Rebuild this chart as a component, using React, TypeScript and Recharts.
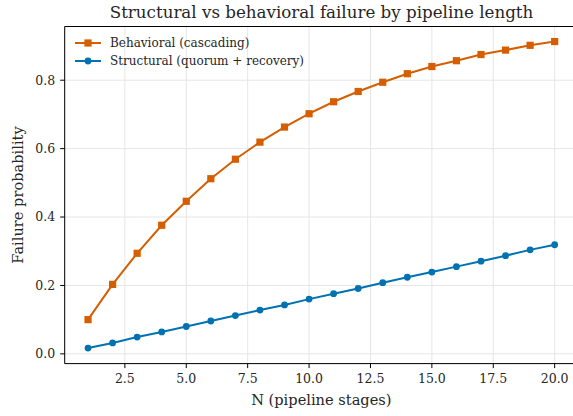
import {
  CartesianGrid,
  Label,
  Line,
  LineChart,
  ReferenceLine,
  XAxis,
  YAxis,
} from "recharts"

const STAGES = [1, 2, 3, 4, 5, 6, 7, 8, 9, 10, 11, 12, 13, 14, 15, 16, 17, 18, 19, 20]

const BEHAVIORAL = [
  0.1, 0.203, 0.294, 0.376, 0.446, 0.512, 0.569, 0.619, 0.663, 0.702,
  0.737, 0.767, 0.794, 0.819, 0.84, 0.857, 0.875, 0.888, 0.902, 0.913,
]

const STRUCTURAL = [
  0.017, 0.032, 0.049, 0.064, 0.08, 0.096, 0.112, 0.128, 0.143, 0.16,
  0.176, 0.191, 0.208, 0.224, 0.239, 0.255, 0.271, 0.287, 0.304, 0.319,
]

const X_TICKS = [2.5, 5, 7.5, 10, 12.5, 15, 17.5, 20]
const Y_TICKS = [0, 0.2, 0.4, 0.6, 0.8]
const X_DOMAIN: [number, number] = [0.05, 20.95]
const Y_DOMAIN: [number, number] = [-0.0285, 0.957]

const ORANGE = "#d55e00"
const BLUE = "#0072b2"
const FONT = "'DejaVu Serif', serif"
const TEXT = "#262626"

const SERIES = [
  { key: "behavioral", name: "Behavioral (cascading)", color: ORANGE, marker: "square" },
  { key: "structural", name: "Structural (quorum + recovery)", color: BLUE, marker: "circle" },
]

const data = STAGES.map((n, i) => ({
  n,
  behavioral: BEHAVIORAL[i],
  structural: STRUCTURAL[i],
}))

function SquareDot(props: any) {
  const { cx, cy, index } = props
  if (cx == null || cy == null) return null
  return <rect key={`sq-${index}`} x={cx - 3.6} y={cy - 3.6} width={7.2} height={7.2} fill={ORANGE} />
}

function ChartLegend() {
  return (
    <div
      style={{
        position: "absolute",
        left: 74,
        top: 34,
        fontFamily: FONT,
        fontSize: 12,
        color: TEXT,
        zIndex: 2,
      }}
    >
      {SERIES.map((s) => (
        <div key={s.key} style={{ display: "flex", alignItems: "center", height: 18 }}>
          <svg width={28} height={12} style={{ marginRight: 8 }}>
            <line x1={1} y1={6} x2={27} y2={6} stroke={s.color} strokeWidth={2} />
            {s.marker === "square" ? (
              <rect x={10.4} y={2.4} width={7.2} height={7.2} fill={s.color} />
            ) : (
              <circle cx={14} cy={6} r={3.4} fill={s.color} />
            )}
          </svg>
          <span>{s.name}</span>
        </div>
      ))}
    </div>
  )
}

export default function App() {
  return (
    <div
      style={{
        position: "absolute",
        left: 0,
        top: 0,
        width: 573,
        height: 416,
        overflow: "hidden",
        background: "#fff",
      }}
    >
      <div
        style={{
          position: "absolute",
          left: 0,
          width: 643,
          top: 2,
          textAlign: "center",
          fontFamily: FONT,
          fontSize: 16.7,
          color: TEXT,
          zIndex: 2,
        }}
      >
        Structural vs behavioral failure by pipeline length
      </div>
      <ChartLegend />
      <LineChart
        width={590}
        height={416}
        data={data}
        margin={{ top: 26.5, right: 12, bottom: 0, left: 0 }}
      >
        <CartesianGrid stroke="#e6e6e6" strokeWidth={1} />
        <XAxis
          dataKey="n"
          type="number"
          domain={X_DOMAIN}
          ticks={X_TICKS}
          allowDataOverflow
          tickFormatter={(v: number) => v.toFixed(1)}
          height={52.4}
          tickSize={4.5}
          tickMargin={6}
          stroke="#000"
          tick={{ fill: TEXT, fontSize: 12.5, fontFamily: FONT }}
        >
          <Label
            content={({ viewBox }: any) => (
              <text
                x={viewBox.x + viewBox.width / 2}
                y={viewBox.y + 41}
                textAnchor="middle"
                fontFamily={FONT}
                fontSize={14.6}
                fill={TEXT}
              >
                N (pipeline stages)
              </text>
            )}
          />
        </XAxis>
        <YAxis
          type="number"
          domain={Y_DOMAIN}
          ticks={Y_TICKS}
          allowDataOverflow
          tickFormatter={(v: number) => v.toFixed(1)}
          width={64.7}
          tickSize={4.5}
          tickMargin={5}
          stroke="#000"
          tick={{ fill: TEXT, fontSize: 12.5, fontFamily: FONT }}
        >
          <Label
            content={({ viewBox }: any) => {
              const x = 18
              const y = viewBox.y + viewBox.height / 2
              return (
                <text
                  x={x}
                  y={y}
                  transform={`rotate(-90, ${x}, ${y})`}
                  textAnchor="middle"
                  dominantBaseline="central"
                  fontFamily={FONT}
                  fontSize={14.6}
                  fill={TEXT}
                >
                  Failure probability
                </text>
              )
            }}
          />
        </YAxis>
        <ReferenceLine y={Y_DOMAIN[1]} stroke="#000" strokeWidth={1} />
        <Line
          dataKey="behavioral"
          name="Behavioral (cascading)"
          stroke={ORANGE}
          strokeWidth={2}
          dot={<SquareDot />}
          activeDot={false}
          isAnimationActive={false}
        />
        <Line
          dataKey="structural"
          name="Structural (quorum + recovery)"
          stroke={BLUE}
          strokeWidth={2}
          dot={{ r: 3.4, fill: BLUE, stroke: BLUE, strokeWidth: 0 }}
          activeDot={false}
          isAnimationActive={false}
        />
      </LineChart>
    </div>
  )
}
